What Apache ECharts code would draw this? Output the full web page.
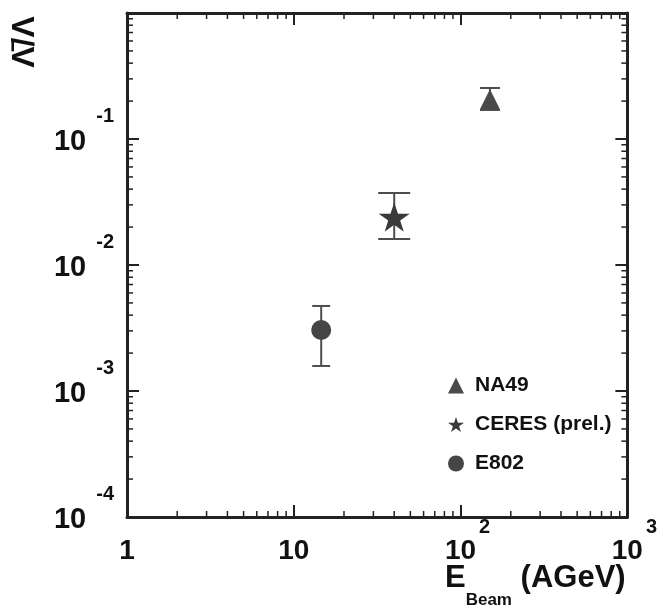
<!DOCTYPE html>
<html>
<head>
<meta charset="utf-8">
<script src="https://cdn.jsdelivr.net/npm/echarts@6/dist/echarts.min.js"></script>
<style>
  html, body { margin: 0; padding: 0; background: #ffffff; }
  #chart { width: 660px; height: 605px; }
</style>
</head>
<body>
<div id="chart"></div>
<script>
// Anti-lambda / lambda ratio versus beam energy
const experiments = ['NA49', 'CERES (prel.)', 'E802'];
const beamEnergy  = [150, 40, 14.6];          // AGeV
const ratio       = [0.207, 0.024, 0.00305];
const ratioUpper  = [0.254, 0.0372, 0.00473];
const ratioLower  = [0.170, 0.0161, 0.00158];

// axis ranges and labelled decades
const xRange = [1, 1000];
const yRange = [1e-4, 1];
const xTickValues = [1, 10, 100, 1000];
const yTickValues = [1e-4, 1e-3, 1e-2, 1e-1];

// minor ticks at 2..9 times each decade
function minorValues(lo, hi) {
  const out = [];
  for (let d = lo; d < hi; d *= 10) {
    for (let k = 2; k <= 9; k++) out.push(d * k);
  }
  return out;
}
const xMinor = minorValues(xRange[0], xRange[1]);
const yMinor = minorValues(yRange[0], yRange[1]);

const STAR = 'path://M50,0 L61.8,35.1 L98.9,35.1 L68.9,56.7 L80.2,91.9 L50,70.2 L19.8,91.9 L31.1,56.7 L1.1,35.1 L38.2,35.1 Z';
const markerLook = [
  { symbol: 'triangle', size: [20, 20], color: '#4a4a4a', cap: 10 },
  { symbol: STAR,       size: 31,       color: '#3a3a3a', cap: 16 },
  { symbol: 'circle',   size: 20,       color: '#454545', cap: 9 }
];

const FONT = '"Liberation Sans", Arial, Helvetica, sans-serif';
const frameColor = '#222';

function exponentOf(v) { return Math.round(Math.log10(v)); }

const chart = echarts.init(document.getElementById('chart'), null, { renderer: 'canvas' });

const xLabelRich = {
  b:  { fontFamily: FONT, fontWeight: 'bold', fontSize: 28, lineHeight: 48, color: '#111', verticalAlign: 'bottom' },
  s:  { fontFamily: FONT, fontWeight: 'bold', fontSize: 20, lineHeight: 20, color: '#111', padding: [0, 0, 0, 3], verticalAlign: 'top' },
  sp: { fontSize: 20, lineHeight: 20, width: 14 }
};
const yLabelRich = {
  b: { fontFamily: FONT, fontWeight: 'bold', fontSize: 29, lineHeight: 50, color: '#111', verticalAlign: 'bottom' },
  s: { fontFamily: FONT, fontWeight: 'bold', fontSize: 20, lineHeight: 20, color: '#111', padding: [0, 0, 0, 10], verticalAlign: 'top' }
};

function frameAxis(extra) {
  return Object.assign({
    type: 'log',
    logBase: 10,
    axisLine: { show: true, onZero: false, lineStyle: { color: frameColor, width: 3 } },
    axisTick: { show: true, inside: true, length: 12, lineStyle: { color: frameColor, width: 2 } },
    splitLine: { show: false },
    minorTick: { show: false }
  }, extra);
}

const errorSeries = {
  type: 'custom',
  name: 'errors',
  z: 3,
  data: beamEnergy.map((e, i) => [e, ratioLower[i], ratioUpper[i], i]),
  renderItem(params, api) {
    const i = api.value(3);
    const lo = api.coord([api.value(0), api.value(1)]);
    const hi = api.coord([api.value(0), api.value(2)]);
    const c = markerLook[i].cap;
    const st = { stroke: '#4d4d4d', lineWidth: 2 };
    return {
      type: 'group',
      children: [
        { type: 'line', shape: { x1: lo[0], y1: lo[1], x2: hi[0], y2: hi[1] }, style: st },
        { type: 'line', shape: { x1: lo[0] - c, y1: lo[1], x2: lo[0] + c, y2: lo[1] }, style: st },
        { type: 'line', shape: { x1: hi[0] - c, y1: hi[1], x2: hi[0] + c, y2: hi[1] }, style: st }
      ]
    };
  }
};

function minorTickSeries(values, dir) {
  return {
    type: 'custom',
    name: 'minor-' + dir,
    silent: true,
    z: 1,
    clip: false,
    data: values.map(v => dir === 'x' ? [v, yRange[0]] : [xRange[0], v]),
    renderItem(params, api) {
      const cs = params.coordSys;
      const p = api.coord([api.value(0), api.value(1)]);
      const st = { stroke: frameColor, lineWidth: 1.5 };
      const L = 6;
      if (dir === 'x') {
        return { type: 'group', children: [
          { type: 'line', shape: { x1: p[0], y1: cs.y + cs.height, x2: p[0], y2: cs.y + cs.height - L }, style: st },
          { type: 'line', shape: { x1: p[0], y1: cs.y, x2: p[0], y2: cs.y + L }, style: st }
        ]};
      }
      return { type: 'group', children: [
        { type: 'line', shape: { x1: cs.x, y1: p[1], x2: cs.x + L, y2: p[1] }, style: st },
        { type: 'line', shape: { x1: cs.x + cs.width, y1: p[1], x2: cs.x + cs.width - L, y2: p[1] }, style: st }
      ]};
    }
  };
}

const pointSeries = experiments.map((name, i) => ({
  type: 'scatter',
  name: name,
  z: 4,
  symbol: markerLook[i].symbol,
  symbolSize: markerLook[i].size,
  symbolKeepAspect: true,
  itemStyle: { color: markerLook[i].color, opacity: 1 },
  data: [[beamEnergy[i], ratio[i]]]
}));

chart.setOption({
  animation: false,
  backgroundColor: '#ffffff',
  grid: { left: 127, right: 31, top: 13, bottom: 88, containLabel: false },
  xAxis: [
    frameAxis({
      position: 'bottom', min: xRange[0], max: xRange[1],
      axisLabel: {
        show: true, margin: 0, showMinLabel: true, showMaxLabel: true,
        formatter(v) {
          const e = exponentOf(v);
          if (e === 0) return '{b|1}';
          if (e === 1) return '{b|10}';
          return '{sp| }{b|10}{s|' + e + '}';
        },
        rich: xLabelRich
      }
    }),
    frameAxis({ position: 'top', min: xRange[0], max: xRange[1], axisLabel: { show: false } })
  ],
  yAxis: [
    frameAxis({
      position: 'left', min: yRange[0], max: yRange[1],
      axisLabel: {
        show: true, margin: 13, padding: [0, 0, 16, 0], showMinLabel: true, showMaxLabel: true,
        formatter(v) {
          const e = exponentOf(v);
          if (!yTickValues.some(t => exponentOf(t) === e)) return '';
          return '{b|10}{s|' + e + '}';
        },
        rich: yLabelRich
      }
    }),
    frameAxis({ position: 'right', min: yRange[0], max: yRange[1], axisLabel: { show: false } })
  ],
  legend: {
    data: experiments.map((n, i) => ({ name: n, itemStyle: { color: markerLook[i].color } })),
    orient: 'vertical',
    left: 443,
    top: 370,
    itemWidth: 16,
    itemHeight: 16,
    itemGap: 18,
    selectedMode: false,
    textStyle: { fontFamily: FONT, fontWeight: 'bold', fontSize: 21, color: '#111', padding: [0, 0, 0, 6] }
  },
  graphic: [
    {
      type: 'text', x: 25, y: 42, rotation: Math.PI / 2,
      style: { text: 'Λ̄/Λ', font: 'bold 32px ' + FONT, fill: '#111', align: 'center', verticalAlign: 'middle' }
    },
    {
      type: 'text', x: 445, y: 563,
      style: {
        text: '{e|E}{sub|Beam}{u| (AGeV)}',
        align: 'left', verticalAlign: 'top',
        rich: {
          e:   { fontFamily: FONT, fontWeight: 'bold', fontSize: 31, lineHeight: 31, fill: '#111', verticalAlign: 'top' },
          sub: { fontFamily: FONT, fontWeight: 'bold', fontSize: 17, lineHeight: 46, fill: '#111', verticalAlign: 'bottom' },
          u:   { fontFamily: FONT, fontWeight: 'bold', fontSize: 31, lineHeight: 31, fill: '#111', verticalAlign: 'top' }
        }
      }
    }
  ],
  series: [
    minorTickSeries(xMinor, 'x'),
    minorTickSeries(yMinor, 'y'),
    errorSeries
  ].concat(pointSeries)
});
</script>
</body>
</html>
